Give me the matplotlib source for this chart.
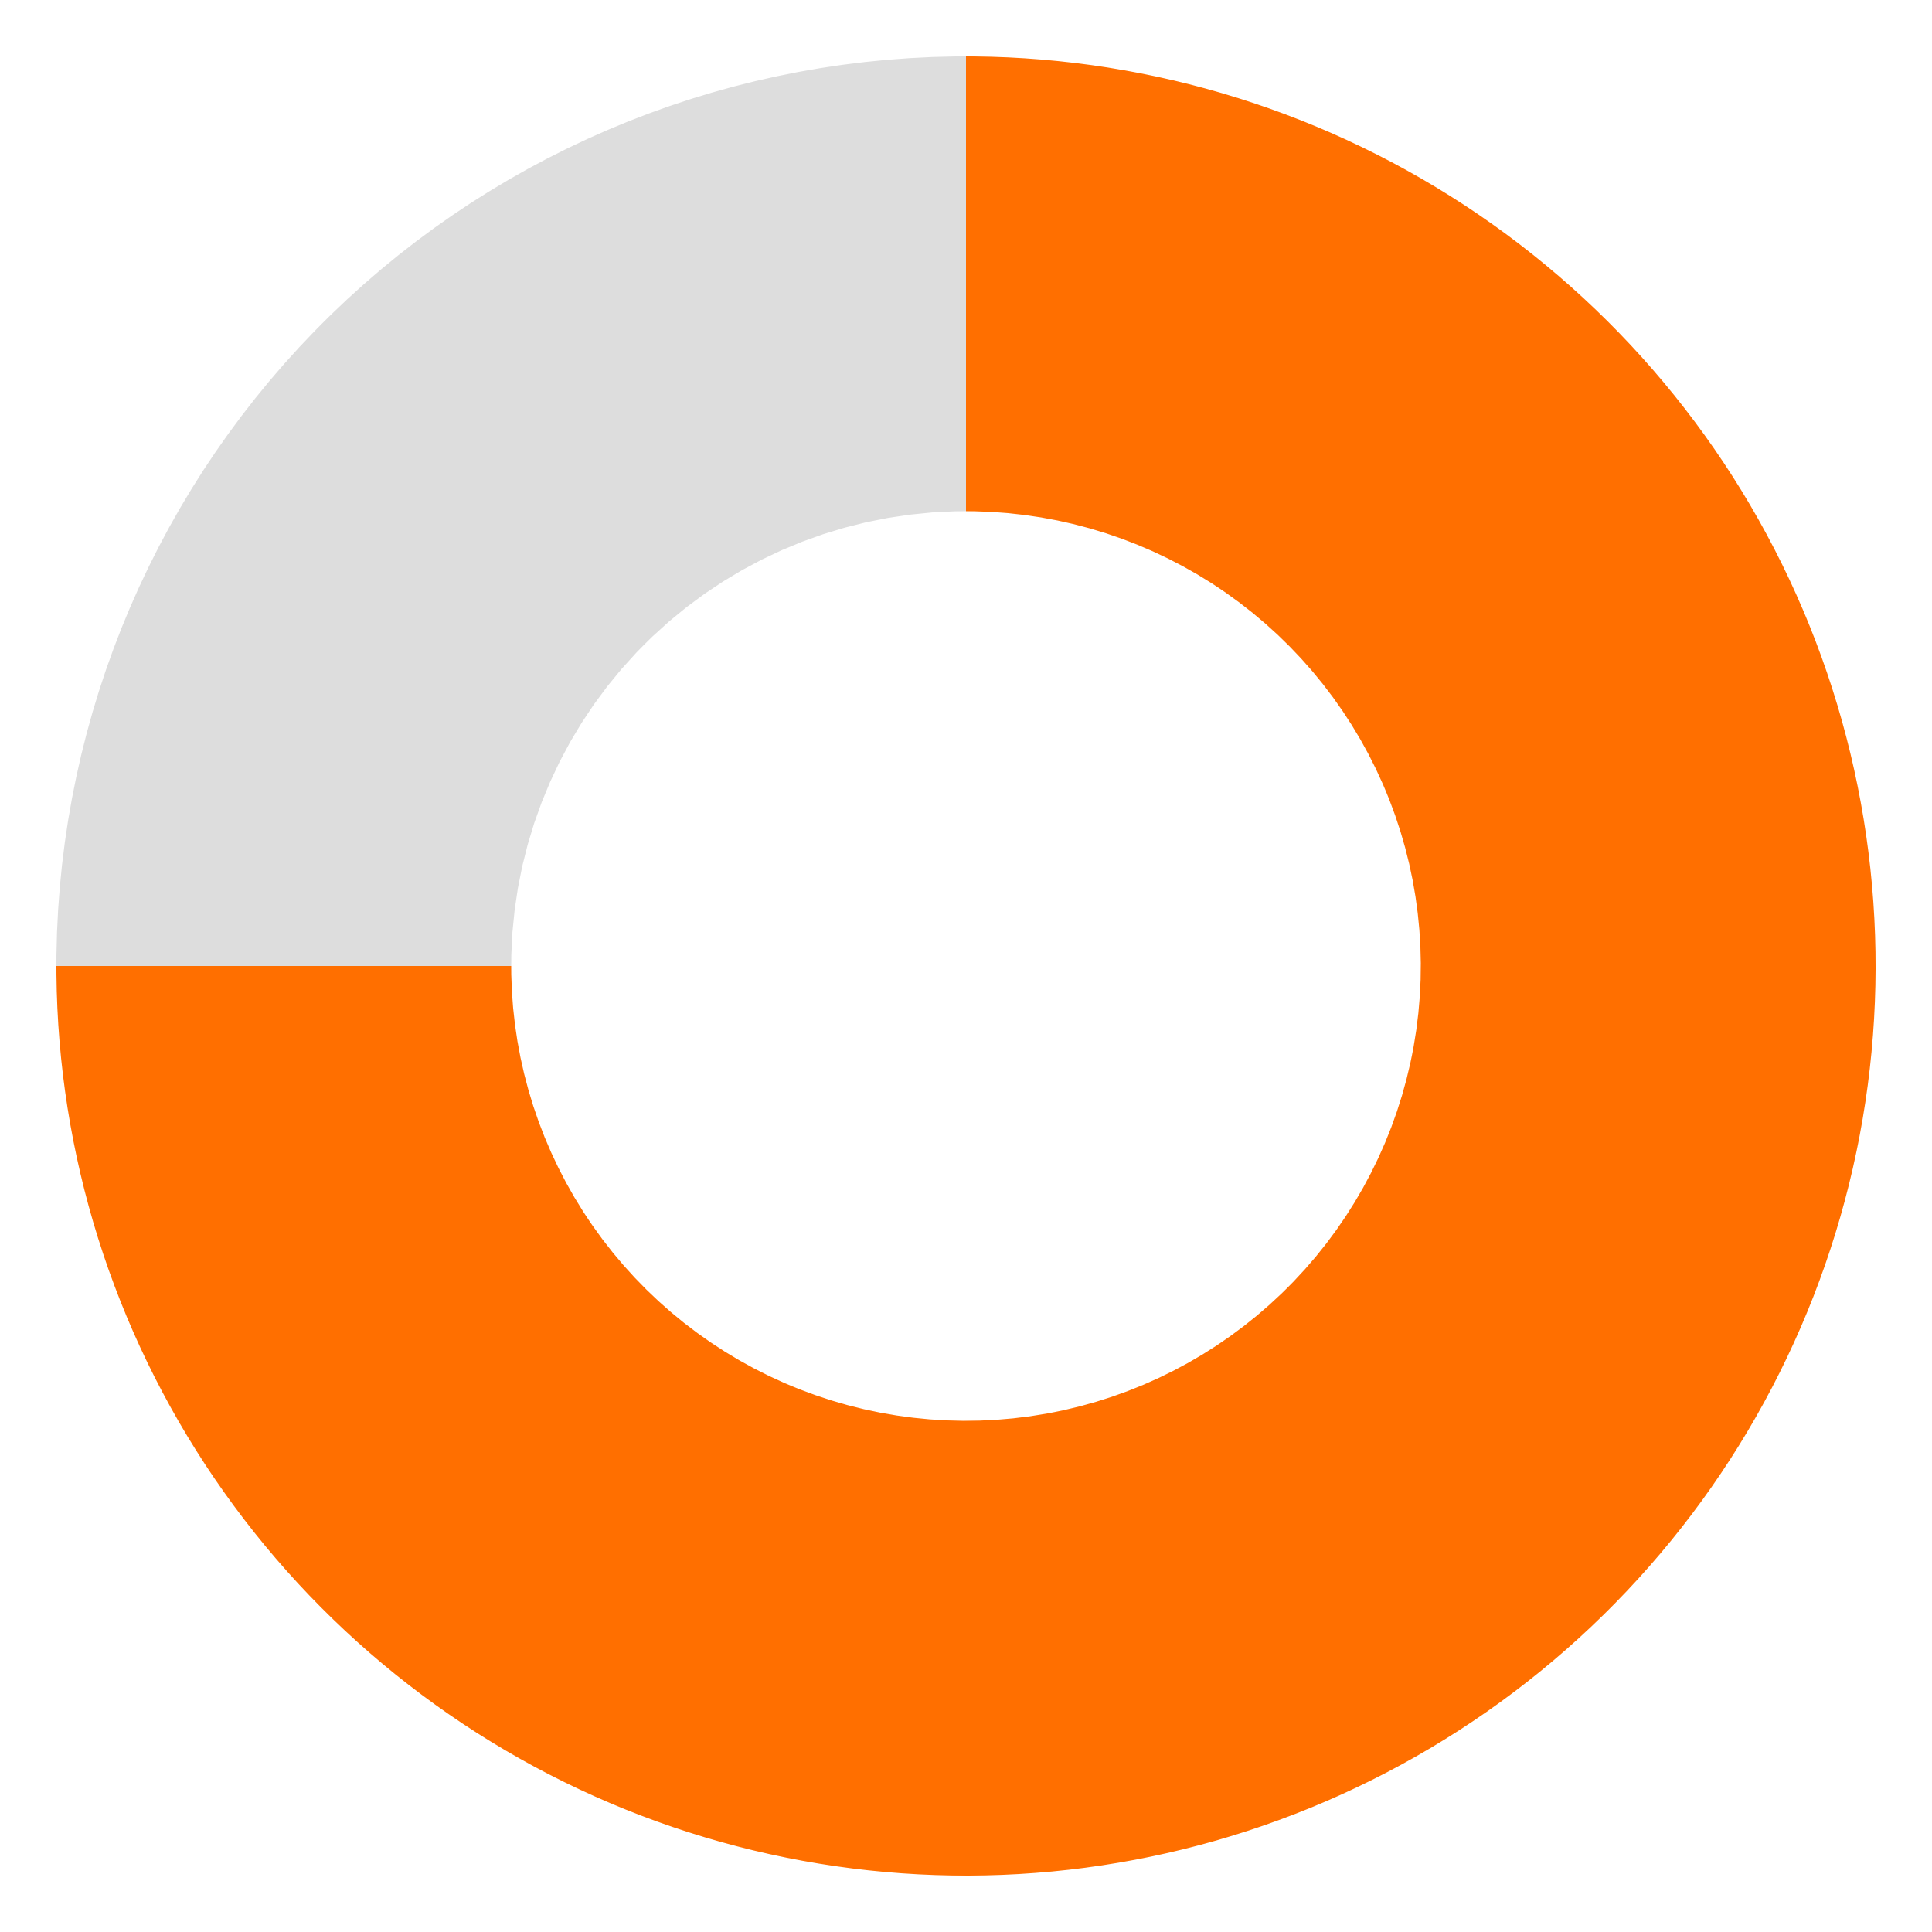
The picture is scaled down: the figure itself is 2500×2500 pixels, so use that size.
import matplotlib
matplotlib.use("Agg")
import matplotlib.pyplot as plt

labels = ["Done", "Remaining"]
values = [75, 25]
colors = ["#FF6F00", "#DDDDDD"]

fig = plt.figure(figsize=(25, 25), dpi=100)
ax = fig.add_axes([0, 0, 1, 1])
ax.pie(values, colors=colors, startangle=90, counterclock=False,
       radius=1.0, wedgeprops=dict(width=0.5, edgecolor="none"))
lim = 1250 / 1177
ax.set_xlim(-lim, lim)
ax.set_ylim(-lim, lim)
ax.set_aspect("equal")
ax.axis("off")
fig.savefig("out.png", dpi=100, facecolor="white")
